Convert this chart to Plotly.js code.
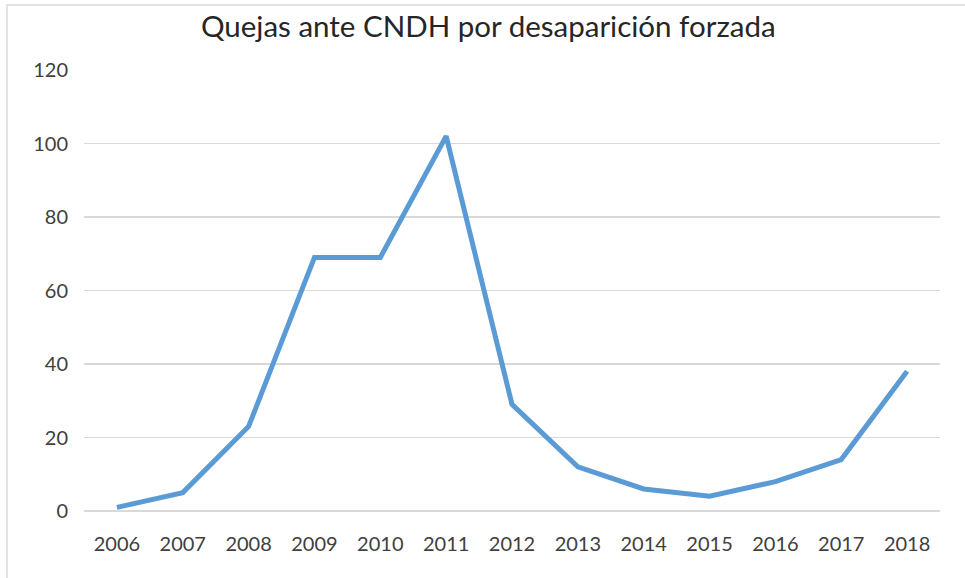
<!DOCTYPE html>
<html>
<head>
<meta charset="utf-8">
<script src="https://cdn.plot.ly/plotly-3.0.1.min.js"></script>
<style>
html,body{margin:0;padding:0;background:#fff;}
#chart{width:965px;height:578px;position:relative;}
#bt{position:absolute;left:6px;top:4px;width:959px;height:2px;background:#e3e3e3;z-index:5;}
#bl{position:absolute;left:6px;top:4px;width:2px;height:574px;background:#e3e3e3;z-index:5;}
</style>
</head>
<body>
<div id="wrap" style="position:relative;width:965px;height:578px;">
<div id="bt"></div><div id="bl"></div>
<div id="chart"></div>
</div>
<script>
const years = ["2006","2007","2008","2009","2010","2011","2012","2013","2014","2015","2016","2017","2018"];
const quejas = [1, 5, 23, 69, 69, 102, 29, 12, 6, 4, 8, 14, 38];
const yTicks = [0, 20, 40, 60, 80, 100, 120];
const chartTitle = "Quejas ante CNDH por desaparición forzada";

const font = "Lato, 'Noto Sans', sans-serif";
Plotly.newPlot("chart", [{
  x: years,
  y: quejas,
  type: "scatter",
  mode: "lines",
  line: {color: "#5b9bd5", width: 5, shape: "linear"},
  hoverinfo: "x+y"
}], {
  width: 965, height: 578,
  margin: {l: 84, r: 25, t: 70, b: 67},
  paper_bgcolor: "rgba(0,0,0,0)",
  plot_bgcolor: "#fff",
  showlegend: false,
  title: {text: chartTitle, x: 0.506, xanchor: "center", xref: "container", y: 0.953, yanchor: "middle", yref: "container",
          font: {family: font, size: 29.5, color: "#262626"}},
  xaxis: {
    type: "category", range: [-0.5, 12.5],
    showgrid: false, zeroline: false, showline: false,
    ticks: "", ticklabelstandoff: 19,
    tickfont: {family: font, size: 20, color: "#404040"}
  },
  yaxis: {
    range: [0, 120], tickvals: yTicks, ticktext: yTicks.map(String),
    showgrid: true, gridcolor: "#d9d9d9", gridwidth: 1.5,
    zeroline: true, zerolinecolor: "#d9d9d9", zerolinewidth: 1.5,
    showline: false, ticks: "", ticklabelstandoff: 15,
    tickfont: {family: font, size: 20, color: "#404040"}
  }
}, {displayModeBar: false, staticPlot: true});
</script>
</body>
</html>
